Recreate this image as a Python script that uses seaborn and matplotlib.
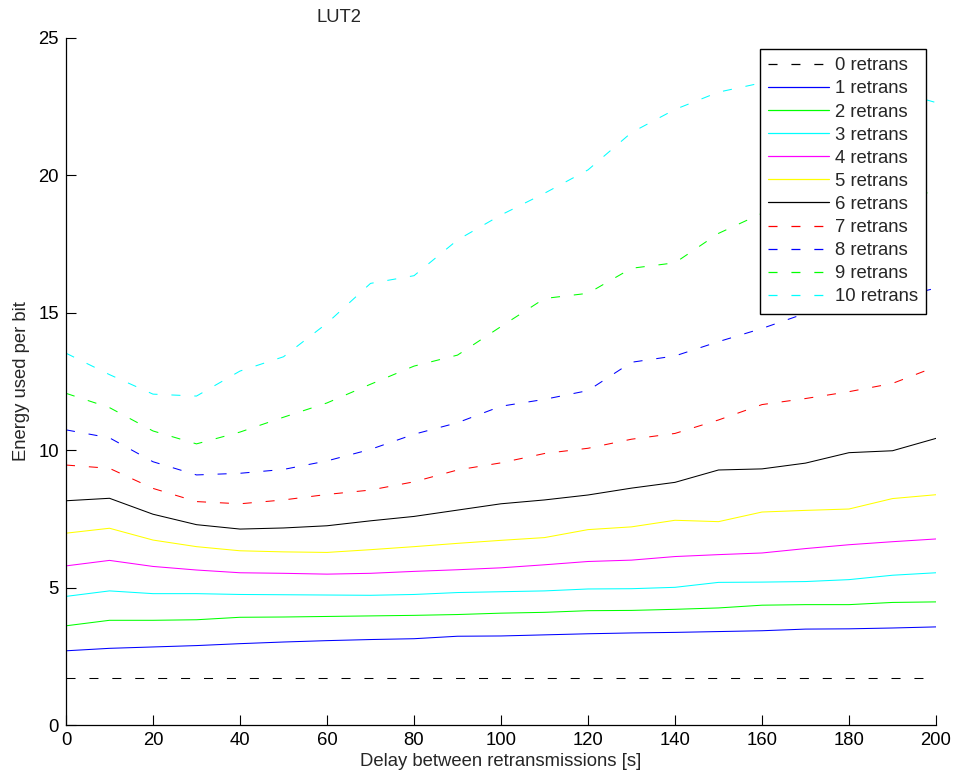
import numpy as np
import pandas as pd
import matplotlib
matplotlib.use("Agg")
import matplotlib.pyplot as plt
from matplotlib.lines import Line2D
import seaborn as sns

# Delay between retransmissions (s)
delays = [0, 10, 20, 30, 40, 50, 60, 70, 80, 90, 100,
          110, 120, 130, 140, 150, 160, 170, 180, 190, 200]

# Energy used per bit for each number of retransmissions
retrans_0 = [1.71] * 21
retrans_1 = [2.70, 2.79, 2.84, 2.89, 2.96, 3.02, 3.07, 3.11, 3.14, 3.23, 3.24,
             3.28, 3.32, 3.35, 3.37, 3.40, 3.43, 3.49, 3.50, 3.53, 3.57]
retrans_2 = [3.61, 3.81, 3.81, 3.83, 3.92, 3.93, 3.95, 3.97, 3.99, 4.02, 4.07,
             4.10, 4.16, 4.17, 4.21, 4.26, 4.36, 4.38, 4.38, 4.46, 4.48]
retrans_3 = [4.68, 4.88, 4.78, 4.78, 4.75, 4.74, 4.73, 4.72, 4.75, 4.82, 4.85,
             4.88, 4.95, 4.96, 5.01, 5.19, 5.20, 5.22, 5.29, 5.45, 5.54]
retrans_4 = [5.79, 5.99, 5.77, 5.64, 5.54, 5.52, 5.49, 5.52, 5.59, 5.65, 5.72,
             5.83, 5.95, 6.00, 6.13, 6.20, 6.26, 6.42, 6.56, 6.67, 6.77]
retrans_5 = [6.98, 7.16, 6.73, 6.49, 6.34, 6.30, 6.28, 6.38, 6.49, 6.61, 6.72,
             6.82, 7.11, 7.21, 7.45, 7.40, 7.75, 7.81, 7.86, 8.24, 8.38]
retrans_6 = [8.16, 8.25, 7.67, 7.29, 7.13, 7.17, 7.25, 7.43, 7.59, 7.82, 8.05,
             8.19, 8.37, 8.62, 8.83, 9.28, 9.32, 9.53, 9.91, 9.98, 10.43]
retrans_7 = [9.46, 9.34, 8.61, 8.13, 8.05, 8.19, 8.39, 8.55, 8.85, 9.28, 9.54,
             9.88, 10.07, 10.40, 10.61, 11.10, 11.66, 11.88, 12.13, 12.43, 13.04]
retrans_8 = [10.74, 10.45, 9.58, 9.10, 9.16, 9.30, 9.61, 10.03, 10.58, 11.00, 11.60,
             11.85, 12.17, 13.20, 13.43, 13.95, 14.43, 14.98, 15.25, 15.50, 15.90]
retrans_9 = [12.07, 11.55, 10.70, 10.23, 10.66, 11.20, 11.72, 12.40, 13.06, 13.46, 14.50,
             15.52, 15.71, 16.62, 16.82, 17.89, 18.62, 18.95, 19.15, 19.30, 19.38]
retrans_10 = [13.53, 12.75, 12.04, 11.97, 12.88, 13.40, 14.62, 16.07, 16.35, 17.65, 18.56,
              19.35, 20.20, 21.56, 22.40, 23.03, 23.37, 23.55, 23.45, 23.10, 22.65]

series = [retrans_0, retrans_1, retrans_2, retrans_3, retrans_4, retrans_5,
          retrans_6, retrans_7, retrans_8, retrans_9, retrans_10]
labels = [f"{i} retrans" for i in range(11)]
colors = ["#000000", "#0000ff", "#00ff00", "#00ffff", "#ff00ff", "#ffff00",
          "#000000", "#ff0000", "#0000ff", "#00ff00", "#00ffff"]
dashed = [True, False, False, False, False, False, False, True, True, True, True]

x_ticks = [0, 20, 40, 60, 80, 100, 120, 140, 160, 180, 200]
y_ticks = [0, 5, 10, 15, 20, 25]

sns.set_style("ticks")
plt.rcParams["font.family"] = ["Liberation Sans", "DejaVu Sans"]
plt.rcParams["lines.scale_dashes"] = False
plt.rcParams["font.size"] = 13.3

fig = plt.figure(figsize=(9.54, 7.76), dpi=100)
ax = fig.add_axes([66 / 954, 51 / 776, 870 / 954, 687 / 776])

dash_style = (0, (6.5, 10.0))
handles = []
for vals, lab, col, dsh in zip(series, labels, colors, dashed):
    df = pd.DataFrame({"delay": delays, "energy": vals})
    ls = dash_style if dsh else "-"
    sns.lineplot(data=df, x="delay", y="energy", ax=ax, color=col,
                 linewidth=0.75, linestyle=ls, legend=False)
    handles.append(Line2D([], [], color=col, linewidth=0.9, linestyle=ls))

ax.set_xlim(0, 200)
ax.set_ylim(0, 25)
ax.set_xticks(x_ticks)
ax.set_yticks(y_ticks)
ax.tick_params(direction="in", length=7, width=0.8, colors="#000000",
               labelsize=13.3, pad=5)
for side in ("top", "right"):
    ax.spines[side].set_visible(False)
for side in ("left", "bottom"):
    ax.spines[side].set_linewidth(0.9)
    ax.spines[side].set_color("#000000")

ax.set_xlabel("Delay between retransmissions [s]", fontsize=13.3, labelpad=3)
ax.set_ylabel("Energy used per bit", fontsize=13.3, labelpad=6)
fig.text(339 / 954, 1 - 17 / 776, "LUT2", ha="center", va="center", fontsize=13.3)

leg = ax.legend(handles, labels, loc="upper right",
                bbox_to_anchor=((926 - 66) / 870, (725 - 49) / 687),
                borderaxespad=0, fancybox=False, framealpha=1,
                edgecolor="#000000", fontsize=13.3, handlelength=3.3,
                handletextpad=0.3, labelspacing=0.33, borderpad=0.45)
leg.get_frame().set_linewidth(1.0)

fig.savefig("out.png", dpi=100, facecolor="white")
